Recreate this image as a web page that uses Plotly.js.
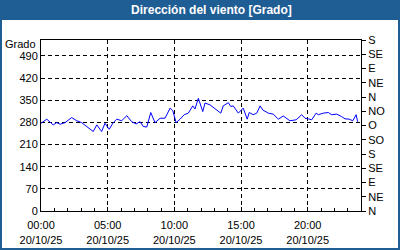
<!DOCTYPE html>
<html><head><meta charset="utf-8">
<script src="https://cdn.plot.ly/plotly-3.0.1.min.js"></script>
<style>
html,body{margin:0;padding:0;background:#fff;}
#wrap{position:relative;width:400px;height:250px;}
#chart{width:400px;height:250px;}
#frame{position:absolute;left:0;top:0;width:400px;height:250px;box-sizing:border-box;border:2px solid #1f5d95;pointer-events:none;}
</style></head>
<body>
<div id="wrap"><div id="chart"></div><div id="frame"></div></div>
<script>
const day = "2025-10-20";
const times = ["00:00","00:26","00:55","01:11","01:26","01:48","02:18","02:41","03:03","03:26","03:55","04:11","04:33","04:48","05:07","05:25","05:41","06:03","06:26","06:48","07:08","07:26","07:40","07:56","08:14","08:33","08:56","09:18","09:41","09:53","10:08","10:26","10:44","11:03","11:23","11:33","11:48","12:08","12:18","12:41","13:18","13:29","13:40","14:03","14:14","14:25","14:48","15:10","15:28","15:37","15:55","16:11","16:26","16:38","17:03","17:25","17:48","18:10","18:40","19:08","19:33","19:48","20:03","20:18","20:38","20:48","21:10","21:33","21:48","22:11","22:33","22:48","23:07","23:23","23:38","23:45"];
const direction = [277,290,272,279,274,279,295,285,279,267,251,272,251,277,258,279,290,285,301,282,275,282,267,265,311,279,293,293,325,317,279,290,304,309,332,322,356,314,341,335,314,309,332,342,330,332,309,325,290,311,304,309,332,319,309,306,290,300,285,288,304,293,291,288,309,304,309,311,304,306,298,291,290,285,304,282];
const leftTicks = [0,70,140,210,280,350,420,490];
const compassVals = [0,45,90,135,180,225,270,315,360,405,450,495,540];
const compassText = ["N","NE","E","SE","S","SO","O","NO","N","NE","E","SE","S"];
const titleText = "Dirección del viento [Grado]";
const unitText = "Grado";

const font = {family:"Liberation Sans, Arial, sans-serif", size:11, color:"#000"};
const xs = times.map(t => day + " " + t);

const data = [
  {x: xs, y: direction, type:"scatter", mode:"lines", line:{color:"#0000ff", width:1}, hoverinfo:"skip"},
  {x: [xs[0]], y: [0], yaxis:"y2", type:"scatter", mode:"markers", marker:{opacity:0}, hoverinfo:"skip", showlegend:false}
];

const L=41, R=39, T=40, B=39, W=400-L-R, H=250-T-B;

const layout = {
  width:400, height:250,
  margin:{l:L, r:R, t:T, b:B, pad:0},
  paper_bgcolor:"#fff", plot_bgcolor:"#fff",
  showlegend:false,
  font: font,
  title:{text:"<b>"+titleText+"</b>", font:{family:"Liberation Sans, Arial, sans-serif", size:12, color:"#fff"}, x:213/400, xanchor:"center", xref:"paper", y:1-10/250, yanchor:"middle", yref:"container"},
  xaxis:{
    type:"date", range:[day+" 00:00", "2025-10-21 00:00"],
    tickmode:"linear", tick0:day+" 00:00", dtick:5*3600000,
    tickformat:"%H:%M<br>%d/%m/%y",
    showgrid:true, gridcolor:"#000", griddash:"4px,3px", gridwidth:1,
    ticks:"inside", ticklen:4, tickcolor:"#000", ticklabelstandoff:4,
    minor:{dtick:3600000, ticks:"inside", ticklen:3, tickcolor:"#000", showgrid:false},
    showline:true, linecolor:"#000", linewidth:1, mirror:true,
    zeroline:false, tickfont:font, fixedrange:true
  },
  yaxis:{
    range:[0,540], tickmode:"array", tickvals:leftTicks,
    showgrid:true, gridcolor:"#000", griddash:"4px,3px", gridwidth:1,
    ticks:"", showline:true, linecolor:"#000", linewidth:1, mirror:true,
    zeroline:false, tickfont:font, fixedrange:true
  },
  yaxis2:{
    overlaying:"y", side:"right", range:[0,540],
    tickmode:"array", tickvals:compassVals, ticktext:compassText,
    ticks:"outside", ticklen:4, tickcolor:"#000",
    showgrid:false, showline:true, linecolor:"#000", linewidth:1,
    zeroline:false, tickfont:font, fixedrange:true
  },
  shapes:[
    {type:"rect", xref:"paper", yref:"paper", x0:-L/W, x1:1+R/W, y0:1+(T-20)/H, y1:1+T/H, fillcolor:"#1f5d95", line:{width:0}, layer:"above"}
  ],
  annotations:[
    {text:unitText, xref:"paper", yref:"y", x:-3/W, y:527, xanchor:"right", yanchor:"middle", showarrow:false, font:font}
  ]
};

Plotly.newPlot("chart", data, layout, {staticPlot:true, displayModeBar:false});
</script>
</body></html>
